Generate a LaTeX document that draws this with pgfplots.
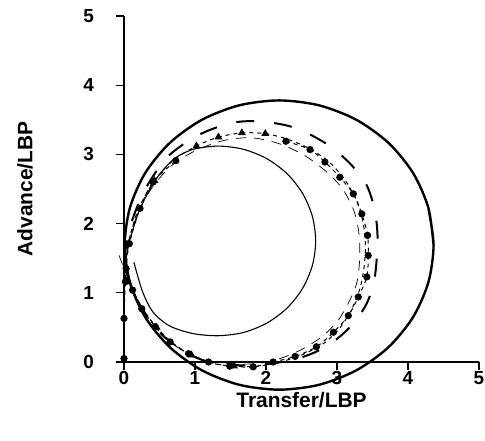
\documentclass[border=0pt]{standalone}
\usepackage{pgfplots}
\pgfplotsset{compat=1.18}
\usepackage{fontspec}
\setmainfont{Liberation Sans}
\begin{document}
\begin{tikzpicture}
\useasboundingbox (0,0) rectangle (485bp,441bp);
\begin{axis}[
  at={(124bp,79bp)}, anchor=south west,
  scale only axis, width=355bp, height=346bp,
  xmin=0, xmax=5, ymin=0, ymax=5,
  axis x line*=bottom, axis y line*=left,
  axis line style={-, line width=1.4bp},
  tick align=outside, major tick length=8bp,
  tick style={line width=1.3bp, black},
  xtick={0,1,2,3,4,5}, ytick={0,1,2,3,4,5},
  clip=false,
  /pgf/number format/assume math mode=true,
  tick label style={font=\fontsize{19}{22}\selectfont\bfseries, inner sep=0pt},
  yticklabel style={xshift=-22bp},
  xticklabel style={yshift=-1bp},
  xlabel={Transfer/LBP}, ylabel={Advance/LBP},
  label style={font=\fontsize{21}{24}\selectfont\bfseries, inner sep=0pt},
  xlabel style={at={(axis description cs:0.5,-0.11)}, anchor=center},
  ylabel style={at={(axis description cs:-0.279,0.5)}, anchor=center},
]
% large thick circle
\addplot[black, line width=2.4bp, smooth] coordinates {
(4.360,1.690) (4.286,2.231) (4.069,2.735) (3.723,3.168) (3.273,3.500) (2.748,3.709)
(2.185,3.780) (1.622,3.709) (1.097,3.500) (0.647,3.168) (0.301,2.735) (0.084,2.231)
(0.010,1.690) (0.084,1.149) (0.301,0.645) (0.647,0.212) (1.097,-0.120) (1.622,-0.329)
(2.185,-0.400) (2.748,-0.329) (3.273,-0.120) (3.723,0.212) (4.069,0.645) (4.286,1.149)
(4.360,1.690) (4.286,2.231)
};
% thin inner spiral
\addplot[black, line width=1.1bp, smooth] coordinates {
(0.14,1.44) (0.26,1.02) (0.41,0.72) (0.645,0.52) (0.975,0.41) (1.33,0.38)
(1.685,0.427) (2.015,0.564) (2.299,0.781) (2.516,1.065) (2.653,1.395) (2.700,1.750)
(2.653,2.105) (2.516,2.435) (2.299,2.719) (2.015,2.936) (1.685,3.073) (1.330,3.120)
(0.975,3.073) (0.70,2.93) (0.45,2.64) (0.22,2.20) (0.08,1.75) (0.02,1.45)
};
% long dashed outer trajectory
\addplot[black, line width=2.0bp, dash pattern=on 18bp off 20bp, smooth] coordinates {
(0.0,1.5) (0.1,2.0) (0.3,2.5) (0.6,2.95) (0.93,3.21) (1.2,3.35) (1.54,3.46) (1.87,3.48)
(2.24,3.43) (2.52,3.34) (2.9,3.12) (3.2,2.85) (3.42,2.55) (3.53,2.2) (3.57,1.85)
(3.56,1.5) (3.52,1.15) (3.42,0.85) (3.25,0.58) (3.02,0.35) (2.75,0.17) (2.45,0.05)
(2.1,-0.02) (1.75,-0.05) (1.4,-0.03) (1.1,0.03) (0.8,0.18) (0.55,0.38) (0.33,0.65)
(0.16,0.95) (0.05,1.25) (-0.08,1.6)
};
% thin dashed trajectory
\addplot[black, line width=0.7bp, dash pattern=on 10bp off 8bp, smooth] coordinates {
(0.0,1.45) (0.12,1.95) (0.35,2.45) (0.65,2.82) (1.0,3.05) (1.4,3.2) (1.8,3.24)
(2.2,3.15) (2.55,2.98) (2.85,2.75) (3.08,2.5) (3.24,2.18) (3.31,1.85) (3.32,1.5)
(3.28,1.15) (3.16,0.85) (3.0,0.58) (2.78,0.36) (2.5,0.18) (2.2,0.05) (1.9,-0.02)
(1.6,-0.03) (1.3,0.0) (1.0,0.08) (0.7,0.25) (0.45,0.5) (0.25,0.8) (0.1,1.1) (-0.1,1.62)
};
% triangles
\addplot[black, line width=1.0bp, dash pattern=on 4bp off 4bp, smooth,
  mark=triangle*, mark size=3.6bp, mark options={solid},
  mark indices={1,6,8,9,10,11,27,29,31}] coordinates {
(0,0.02) (0,0.6) (0.01,1.2) (0.06,1.7) (0.2,2.2) (0.43,2.62) (0.70,2.92) (1.02,3.12)
(1.33,3.25) (1.66,3.31) (1.99,3.30) (2.3,3.22) (2.62,3.08) (2.9,2.88) (3.12,2.62)
(3.28,2.32) (3.37,2.0) (3.40,1.68) (3.38,1.36) (3.32,1.05) (3.2,0.75) (3.03,0.48)
(2.8,0.26) (2.5,0.1) (2.2,0.0) (1.9,-0.06) (1.55,-0.06) (1.25,-0.02) (0.95,0.1)
(0.68,0.28) (0.46,0.5) (0.27,0.76) (0.13,1.02) (0.04,1.2)
};
% circles
\addplot[black, line width=1.0bp, dash pattern=on 4bp off 4bp, smooth,
  mark=*, mark size=3.1bp, mark options={solid}] coordinates {
(0,0.05) (0,0.63) (0.02,1.16) (0.03,1.35) (0.075,1.71) (0.225,2.22) (0.41,2.60)
(0.73,2.91)
};
\addplot[black, line width=1.0bp, dash pattern=on 4bp off 4bp, smooth,
  mark=*, mark size=3.1bp, mark options={solid}] coordinates {
(2.28,3.19) (2.62,3.07) (2.83,2.89) (3.04,2.67) (3.23,2.43) (3.35,2.14) (3.43,1.83)
(3.44,1.54) (3.42,1.23) (3.30,0.94) (3.16,0.67) (2.95,0.43) (2.71,0.22) (2.41,0.08)
(2.10,0.0) (1.82,-0.07) (1.49,-0.06) (1.19,0.0) (0.91,0.12) (0.65,0.29) (0.44,0.51)
(0.25,0.77) (0.12,1.04) (0.04,1.18)
};
\end{axis}
\end{tikzpicture}
\end{document}
